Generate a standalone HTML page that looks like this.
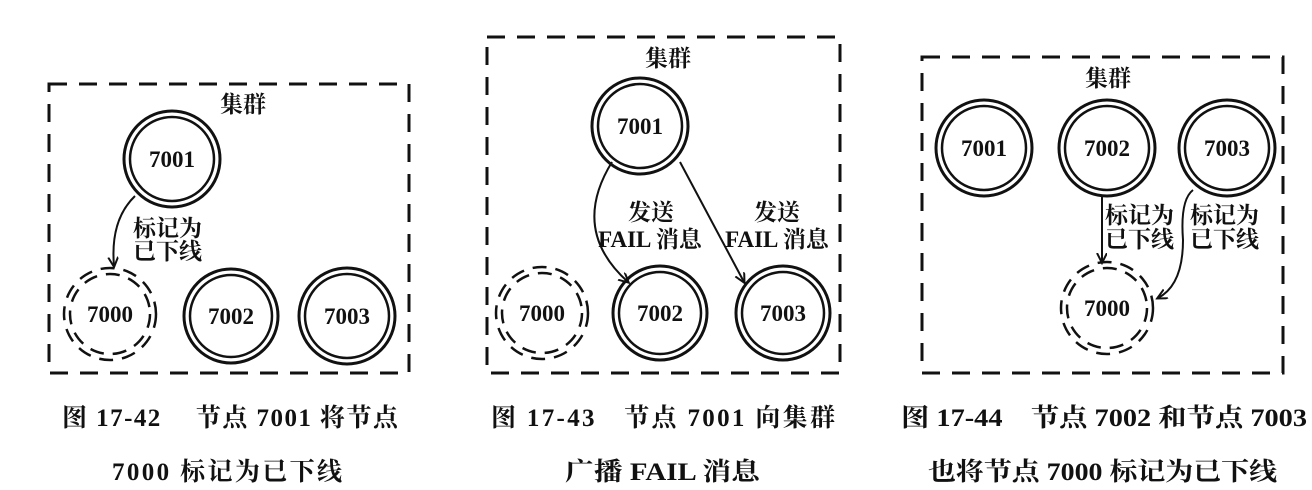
<!DOCTYPE html>
<html><head><meta charset="utf-8"><style>
html,body{margin:0;padding:0;background:#fff;}
svg{display:block;}
text{font-family:"Liberation Serif","Noto Serif CJK SC","Noto Sans CJK SC",serif;fill:#111;}
</style></head><body>
<svg width="1312" height="490" viewBox="0 0 1312 490" xmlns="http://www.w3.org/2000/svg">
<defs>
<marker id="ah" markerWidth="12" markerHeight="12" refX="9" refY="5" orient="auto" markerUnits="userSpaceOnUse">
<path d="M0,0 L10,5 L0,10" fill="none" stroke="#111" stroke-width="2"/>
</marker>
</defs>
<g fill="none" stroke="#111">
<rect x="49" y="84" width="360" height="289" stroke-width="3" stroke-dasharray="18 12"/>
<rect x="487" y="37" width="353" height="336" stroke-width="3" stroke-dasharray="18 12"/>
<rect x="922" y="57" width="361" height="316" stroke-width="3" stroke-dasharray="18 12"/>
<g stroke-width="3">
<circle cx="172" cy="159" r="48"/><circle cx="172" cy="159" r="42" stroke-width="2.5"/>
<circle cx="231" cy="316" r="47"/><circle cx="231" cy="316" r="41" stroke-width="2.5"/>
<circle cx="347" cy="316" r="48"/><circle cx="347" cy="316" r="42" stroke-width="2.5"/>
<circle cx="640" cy="126" r="48"/><circle cx="640" cy="126" r="42" stroke-width="2.5"/>
<circle cx="660" cy="313" r="47"/><circle cx="660" cy="313" r="41" stroke-width="2.5"/>
<circle cx="783" cy="313" r="47"/><circle cx="783" cy="313" r="41" stroke-width="2.5"/>
<circle cx="984" cy="148" r="48"/><circle cx="984" cy="148" r="42" stroke-width="2.5"/>
<circle cx="1107" cy="148" r="48"/><circle cx="1107" cy="148" r="42" stroke-width="2.5"/>
<circle cx="1227" cy="148" r="48"/><circle cx="1227" cy="148" r="42" stroke-width="2.5"/>
</g>
<g stroke-width="2.5" stroke-dasharray="14 9">
<circle cx="110" cy="314" r="46"/><circle cx="110" cy="314" r="40"/>
<circle cx="542" cy="313" r="46"/><circle cx="542" cy="313" r="40"/>
<circle cx="1107" cy="308" r="46"/><circle cx="1107" cy="308" r="40"/>
</g>
<g stroke-width="2" marker-end="url(#ah)">
<path d="M135,196 Q110,220 114,266"/>
<path d="M612,162 Q570,230 628,282"/>
<path d="M680,162 L744,282"/>
<path d="M1102,197 L1102,262"/>
<path d="M1193,190 Q1180,200 1183,240 Q1183,285 1158,298"/>
</g>
</g>
<g font-weight="bold" font-size="23" text-anchor="middle">
<text x="243" y="112">集群</text>
<text x="668" y="66">集群</text>
<text x="1108" y="86">集群</text>
</g>
<g font-size="23" font-weight="bold" text-anchor="middle">
<text x="172" y="167">7001</text>
<text x="110" y="322">7000</text>
<text x="231" y="324">7002</text>
<text x="347" y="324">7003</text>
<text x="640" y="134">7001</text>
<text x="542" y="321">7000</text>
<text x="660" y="321">7002</text>
<text x="783" y="321">7003</text>
<text x="984" y="156">7001</text>
<text x="1107" y="156">7002</text>
<text x="1227" y="156">7003</text>
<text x="1107" y="316">7000</text>
</g>
<g font-size="23" font-weight="bold">
<text x="133" y="236">标记为</text>
<text x="133" y="259">已下线</text>
<text x="1105" y="223">标记为</text>
<text x="1105" y="247">已下线</text>
<text x="1190" y="223">标记为</text>
<text x="1190" y="247">已下线</text>
</g>
<g font-size="23" font-weight="bold" text-anchor="middle">
<text x="651" y="220">发送</text>
<text x="650" y="247">FAIL 消息</text>
<text x="777" y="220">发送</text>
<text x="777" y="247">FAIL 消息</text>
</g>
<g font-weight="bold" font-size="25">
<text x="62" y="426" textLength="336" lengthAdjust="spacing">图 17-42　 节点 7001 将节点</text>
<text x="112" y="480" textLength="230" lengthAdjust="spacing">7000 标记为已下线</text>
<text x="491" y="426" textLength="344" lengthAdjust="spacing">图 17-43　节点 7001 向集群</text>
<text x="565" y="480" textLength="195" lengthAdjust="spacingAndGlyphs">广播 FAIL 消息</text>
<text x="901" y="426" textLength="406" lengthAdjust="spacingAndGlyphs">图 17-44　节点 7002 和节点 7003</text>
<text x="928" y="480" textLength="349" lengthAdjust="spacingAndGlyphs">也将节点 7000 标记为已下线</text>
</g>
</svg>
</body></html>
